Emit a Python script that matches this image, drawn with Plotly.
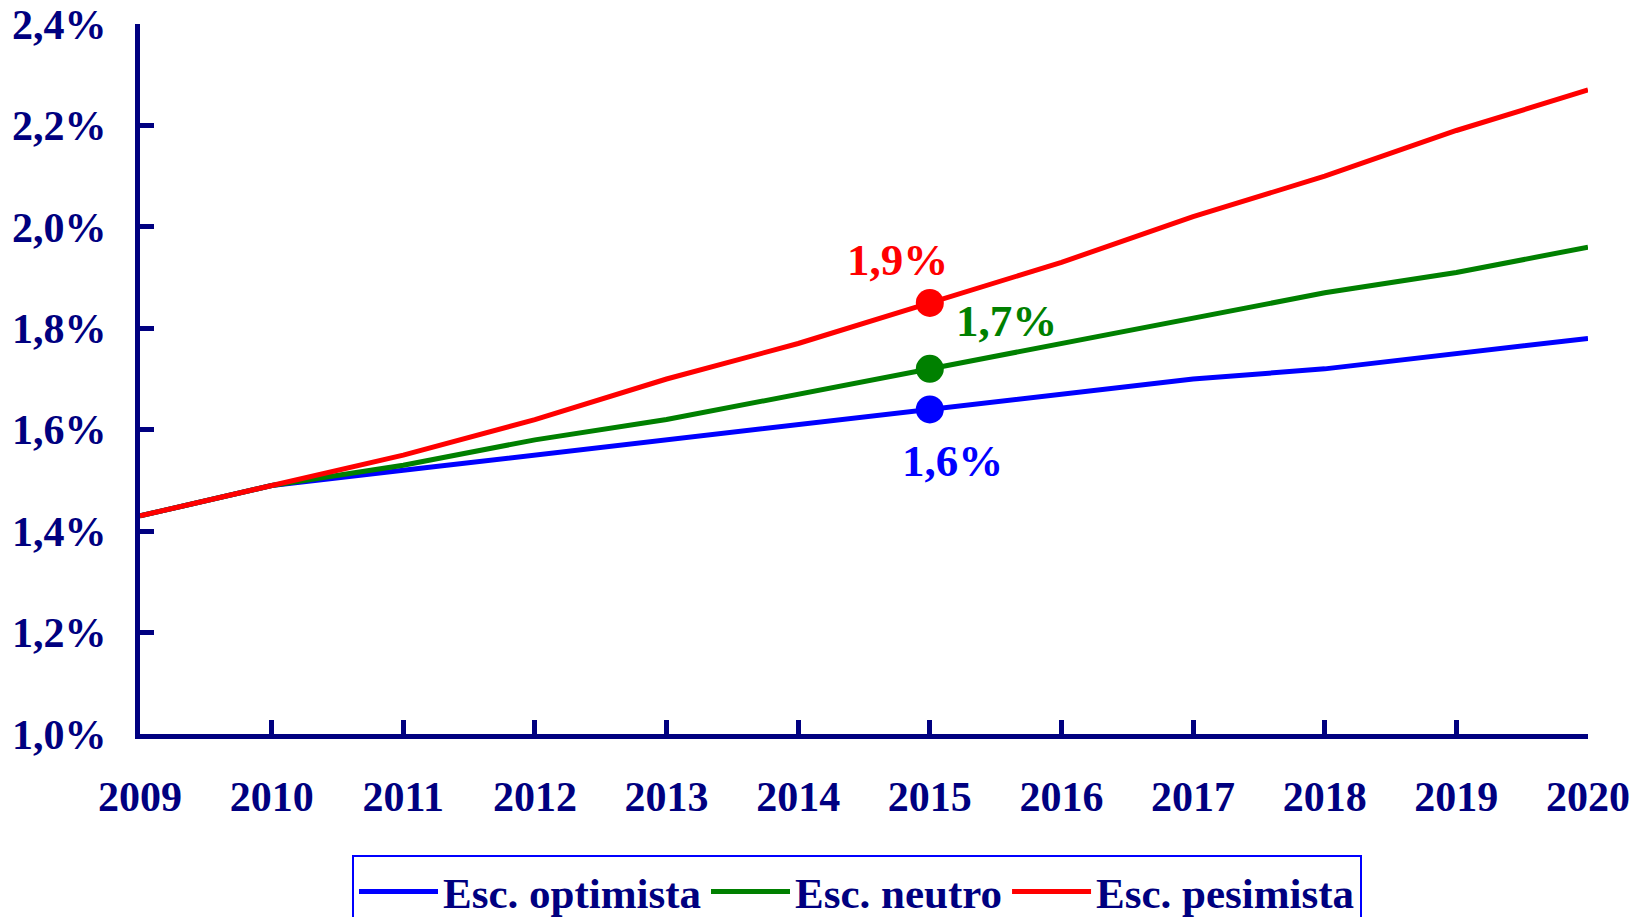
import plotly.graph_objects as go

years = [2009, 2010, 2011, 2012, 2013, 2014, 2015, 2016, 2017, 2018, 2019, 2020]
optimista = [1.43, 1.49, 1.52, 1.55, 1.58, 1.61, 1.64, 1.67, 1.70, 1.72, 1.75, 1.78]
neutro = [1.43, 1.49, 1.53, 1.58, 1.62, 1.67, 1.72, 1.77, 1.82, 1.87, 1.91, 1.96]
pesimista = [1.43, 1.49, 1.55, 1.62, 1.70, 1.77, 1.85, 1.93, 2.02, 2.10, 2.19, 2.27]
series_names = ["Esc. optimista", "Esc. neutro", "Esc. pesimista"]
highlight_year = 2015
highlight_labels = ["1,6%", "1,7%", "1,9%"]
y_tickvals = [1.0, 1.2, 1.4, 1.6, 1.8, 2.0, 2.2, 2.4]
y_ticktext = ["1,0%", "1,2%", "1,4%", "1,6%", "1,8%", "2,0%", "2,2%", "2,4%"]

NAVY = "#000080"
colors = ["#0000FF", "#008000", "#FF0000"]
FONT = "Liberation Serif"
W, H = 1641, 917

fig = go.Figure()
all_series = [optimista, neutro, pesimista]
for name, vals, col in zip(series_names, all_series, colors):
    fig.add_trace(go.Scatter(x=years, y=vals, mode="lines", name=name,
                             line=dict(color=col, width=5), cliponaxis=False))

idx = years.index(highlight_year)
for vals, col in zip(all_series, colors):
    fig.add_trace(go.Scatter(x=[highlight_year], y=[vals[idx]], mode="markers",
                             marker=dict(color=col, size=28), showlegend=False,
                             cliponaxis=False, hoverinfo="skip"))

shifts = [(23, -52), (77, 48), (-32, 43)]
for vals, col, lab, (dx, dy) in zip(all_series, colors, highlight_labels, shifts):
    fig.add_annotation(x=highlight_year, y=vals[idx], text=lab, showarrow=False,
                       xshift=dx, yshift=dy,
                       font=dict(family=FONT, size=45, color=col, weight="bold"))

fig.update_layout(
    width=W, height=H,
    margin=dict(l=132, r=61, t=16, b=191, autoexpand=False),
    plot_bgcolor="white", paper_bgcolor="white",
    font=dict(family=FONT, color=NAVY, weight="bold"),
    showlegend=True,
    legend=dict(orientation="h", xref="container", yref="container",
                x=344 / W, xanchor="left", y=1 - 847 / H, yanchor="top",
                bordercolor="#0000FF", borderwidth=2,
                font=dict(family=FONT, size=43, color=NAVY, weight="bold"),
                itemwidth=79, tracegroupgap=0),
)
fig.update_xaxes(range=[2009, 2020], tickvals=years, ticktext=[str(y) for y in years],
                 showline=True, linecolor=NAVY, linewidth=5, automargin=False,
                 ticks="inside", ticklen=14, tickwidth=5, tickcolor=NAVY,
                 showgrid=False, zeroline=False, ticklabelstandoff=22,
                 ticklabeloverflow="allow",
                 tickfont=dict(family=FONT, size=42, color=NAVY, weight="bold"))
fig.update_yaxes(range=[1.0, 2.4], tickvals=y_tickvals, ticktext=y_ticktext,
                 showline=True, linecolor=NAVY, linewidth=5, automargin=False,
                 ticks="inside", ticklen=14, tickwidth=5, tickcolor=NAVY,
                 showgrid=False, zeroline=False, ticklabelstandoff=20,
                 ticklabeloverflow="allow",
                 tickfont=dict(family=FONT, size=42, color=NAVY, weight="bold"))

fig.write_html("out.html")
